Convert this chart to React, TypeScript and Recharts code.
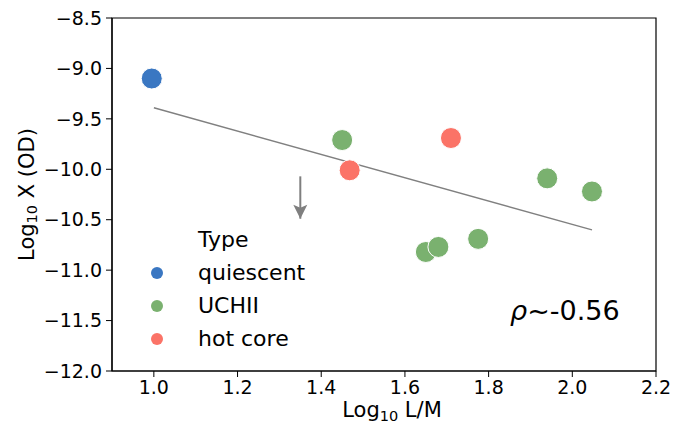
import React from 'react';
import {
  ScatterChart, Scatter, XAxis, YAxis, ReferenceLine, ReferenceArea, Legend, Label,
} from 'recharts';

// Log10 L/M vs Log10 X(OD), grouped by source type
const types = ['quiescent', 'UCHII', 'hot core'];
const typeColors = ['#3a77c2', '#7ab16f', '#fb7367'];

const quiescentPts = [{ x: 0.995, y: -9.1 }];
const uchiiPts = [
  { x: 1.45, y: -9.71 },
  { x: 1.65, y: -10.82 },
  { x: 1.68, y: -10.77 },
  { x: 1.775, y: -10.69 },
  { x: 1.94, y: -10.09 },
  { x: 2.047, y: -10.22 },
];
const hotCorePts = [
  { x: 1.468, y: -10.01 },
  { x: 1.71, y: -9.69 },
];

// fitted trend line end points
const fitLine = [{ x: 1.0, y: -9.39 }, { x: 2.047, y: -10.6 }];
// upper limit arrow: start -> tip
const arrowPts = [{ x: 1.35, y: -10.07 }, { x: 1.35, y: -10.49 }];

const xTicks = [1.0, 1.2, 1.4, 1.6, 1.8, 2.0, 2.2];
const yTicks = [-12.0, -11.5, -11.0, -10.5, -10.0, -9.5, -9.0, -8.5];
const rhoText = '~-0.56';

const FONT = '"DejaVu Sans", sans-serif';
const fmtY = (v: number) => v.toFixed(1).replace('-', '\u2212');

const dot = (color: string) => (p: any) => (
  <circle cx={p.cx} cy={p.cy} r={10.5} fill={color} stroke="#fff" strokeWidth={1} />
);

const arrowShape = (p: any) => {
  if (p.payload && p.payload.y !== arrowPts[1].y) return <g />;
  const { cx, cy } = p;
  return <path d={`M${cx},${cy} L${cx - 7},${cy - 14} L${cx},${cy - 11} L${cx + 7},${cy - 14} Z`} fill="#7f7f7f" />;
};

const XLabel = (props: any) => {
  const vb = props.viewBox;
  return (
    <text x={vb.x + vb.width / 2 + 8} y={vb.y + vb.height - 10} textAnchor="middle" fontSize={21} fontFamily={FONT} fill="#000">
      Log<tspan fontSize={14.5} dy={4}>10</tspan><tspan dy={-4}> L/M</tspan>
    </text>
  );
};

const YLabel = (props: any) => {
  const vb = props.viewBox;
  const cx = 27;
  const cy = vb.y + vb.height / 2;
  return (
    <text x={cx} y={cy} transform={`rotate(-90 ${cx} ${cy})`} textAnchor="middle" dominantBaseline="central" fontSize={21} fontFamily={FONT} fill="#000">
      Log<tspan fontSize={14.5} dy={5}>10</tspan><tspan dy={-5}> X (OD)</tspan>
    </text>
  );
};

const LegendBox = (props: any) => {
  const items = (props.payload || [])
    .filter((e: any) => types.includes(e.value))
    .sort((a: any, b: any) => types.indexOf(a.value) - types.indexOf(b.value));
  return (
    <div style={{ fontFamily: FONT, fontSize: 22, color: '#000', lineHeight: '33px' }}>
      <div style={{ paddingLeft: 52 }}>Type</div>
      {items.map((e: any) => (
        <div key={e.value} style={{ display: 'flex', alignItems: 'center' }}>
          <span style={{ display: 'inline-block', width: 12, height: 12, borderRadius: 6, background: typeColors[types.indexOf(e.value)], marginLeft: 5, marginRight: 35 }} />
          <span>{e.value}</span>
        </div>
      ))}
    </div>
  );
};

export default function App() {
  return (
    <div style={{ position: 'absolute', left: 0, top: 0, width: 684, height: 427, background: '#fff' }}>
      <ScatterChart width={684} height={427} margin={{ top: 18, right: 28, bottom: 0, left: 12 }}>
        <XAxis
          type="number" dataKey="x" domain={[0.9, 2.2]} ticks={xTicks} allowDataOverflow
          tickFormatter={(v: number) => v.toFixed(1)} height={56}
          tick={{ fill: '#000', fontSize: 19, fontFamily: FONT }} tickSize={6} tickMargin={4}
          stroke="#000" axisLine={{ stroke: '#000', strokeWidth: 1.2 }}
        >
          <Label content={<XLabel />} />
        </XAxis>
        <YAxis
          type="number" dataKey="y" domain={[-12, -8.5]} ticks={yTicks} allowDataOverflow
          tickFormatter={fmtY} width={100}
          tick={{ fill: '#000', fontSize: 19, fontFamily: FONT }} tickSize={6} tickMargin={4}
          stroke="#000" axisLine={{ stroke: '#000', strokeWidth: 1.2 }}
        >
          <Label content={<YLabel />} />
        </YAxis>
        <ReferenceArea x1={0.9} x2={2.2} y1={-12} y2={-8.5} fill="none" stroke="#000" strokeWidth={1.2} ifOverflow="visible" />
        <ReferenceLine segment={fitLine} stroke="#808080" strokeWidth={1.4} ifOverflow="visible" />
        <Scatter
          name="arrow" data={arrowPts} isAnimationActive={false} legendType="none"
          line={{ stroke: '#7f7f7f', strokeWidth: 2 }} shape={arrowShape}
        />
        <Scatter name={types[0]} data={quiescentPts} fill={typeColors[0]} shape={dot(typeColors[0])} isAnimationActive={false} />
        <Scatter name={types[1]} data={uchiiPts} fill={typeColors[1]} shape={dot(typeColors[1])} isAnimationActive={false} />
        <Scatter name={types[2]} data={hotCorePts} fill={typeColors[2]} shape={dot(typeColors[2])} isAnimationActive={false} />
        <Legend
          layout="vertical" align="center" verticalAlign="middle" content={<LegendBox />}
          wrapperStyle={{ left: 146, top: 223, width: 220 }}
        />
      </ScatterChart>
      <div style={{ position: 'absolute', left: 510, top: 295, fontFamily: FONT, fontSize: 27, color: '#000', whiteSpace: 'nowrap' }}>
        <i>ρ</i>{rhoText}
      </div>
    </div>
  );
}
